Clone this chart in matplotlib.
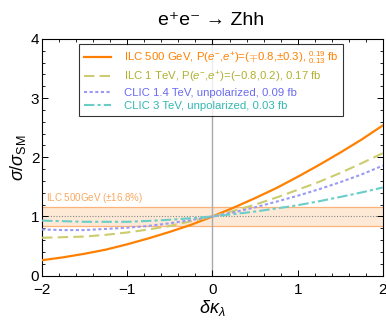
import matplotlib
matplotlib.use('Agg')
import matplotlib.pyplot as plt
from matplotlib.lines import Line2D
from matplotlib.ticker import MultipleLocator

plt.rcParams['font.family'] = ['Liberation Sans', 'DejaVu Sans']
plt.rcParams['mathtext.fontset'] = 'custom'
plt.rcParams['mathtext.rm'] = 'Liberation Sans'
plt.rcParams['mathtext.it'] = 'Liberation Sans:italic'
plt.rcParams['mathtext.bf'] = 'Liberation Sans:bold'

# values
dkappa = [-2, -1.75, -1.5, -1.25, -1, -0.75, -0.5, -0.25, 0,
          0.25, 0.5, 0.75, 1, 1.25, 1.5, 1.75, 2]
ilc500 = [0.26, 0.31, 0.37, 0.44, 0.53, 0.63, 0.74, 0.86, 1.00,
          1.15, 1.31, 1.48, 1.67, 1.87, 2.08, 2.30, 2.54]
ilc1000 = [0.64, 0.65, 0.66, 0.69, 0.73, 0.78, 0.84, 0.92, 1.00,
           1.095, 1.20, 1.32, 1.45, 1.585, 1.735, 1.90, 2.07]
clic1400 = [0.78, 0.77, 0.77, 0.79, 0.81, 0.84, 0.885, 0.94, 1.00,
            1.07, 1.155, 1.25, 1.35, 1.46, 1.58, 1.71, 1.86]
clic3000 = [0.93, 0.92, 0.91, 0.91, 0.91, 0.925, 0.945, 0.97, 1.00,
            1.04, 1.083, 1.135, 1.19, 1.257, 1.33, 1.406, 1.49]
band_pct = 16.8

labels = [
    r'ILC 500 GeV, P($e^{-}$,$e^{+}$)=($\mp$0.8,$\pm$0.3), $^{0.19}_{0.13}$ fb',
    r'ILC 1 TeV, P($e^{-}$,$e^{+}$)=($-$0.8,0.2), 0.17 fb',
    'CLIC 1.4 TeV, unpolarized, 0.09 fb',
    'CLIC 3 TeV, unpolarized, 0.03 fb',
]
line_colors = ['#ff8000', '#cccc70', '#9a9af5', '#6acdc8']
text_colors = ['#ff8000', '#b0b030', '#6a6af0', '#33b8b0']
styles = ['-', (0, (5, 2.5)), (0, (1.5, 1.2)), (0, (5, 1.5, 1.5, 1.5))]
widths = [1.6, 1.5, 1.5, 1.5]

fig = plt.figure(figsize=(3.86, 3.22), dpi=100)
ax = fig.add_axes([0.109, 0.144, 0.883, 0.735])

lo = 1 - band_pct / 100
hi = 1 + band_pct / 100
ax.axhspan(lo, hi, color='#fde9d6', zorder=0, lw=0)
ax.axhline(lo, color='#fbb37a', lw=0.9, zorder=1)
ax.axhline(hi, color='#fbb37a', lw=0.9, zorder=1)
ax.axhline(1, color='#888888', lw=0.8, ls=(0, (1, 1.5)), zorder=1)
ax.axvline(0, color='#aaaaaa', lw=1.0, zorder=1)
ax.text(-1.95, hi + 0.03, 'ILC 500GeV ($\\pm$16.8%)', color='#fba860',
        fontsize=7, ha='left', va='bottom')

series = [ilc500, ilc1000, clic1400, clic3000]
for ys, c, s, w in zip(series, line_colors, styles, widths):
    ax.plot(dkappa, ys, color=c, ls=s, lw=w, zorder=3)

ax.set_xlim(-2, 2)
ax.set_ylim(0, 4)
ax.xaxis.set_minor_locator(MultipleLocator(0.2))
ax.yaxis.set_minor_locator(MultipleLocator(0.2))
ax.tick_params(which='both', direction='in', top=True, right=True,
               labelsize=11)
ax.tick_params(axis='x', pad=5)
ax.tick_params(axis='y', pad=2)
ax.tick_params(which='major', length=4, width=0.7)
ax.tick_params(which='minor', length=2, width=0.6)
ax.set_xticks([-2, -1, 0, 1, 2])
ax.set_xticklabels(['\u22122', '\u22121', '0', '1', '2'])
ax.set_yticks([0, 1, 2, 3, 4])
ax.set_yticklabels(['0', '1', '2', '3', '4'], va='center_baseline')
for sp in ax.spines.values():
    sp.set_linewidth(0.8)

ax.set_xlabel(r'$\delta\kappa_{\lambda}$', fontsize=13, labelpad=1)
ax.set_ylabel(r'$\sigma/\sigma_{\rm SM}$', fontsize=13, labelpad=2)
fig.text(0.548, 0.935, 'e\u207ae\u207b \u2192 Zhh', fontsize=14,
         ha='center', va='center')

handles = [Line2D([], [], color=c, ls=s, lw=w)
           for c, s, w in zip(line_colors, styles, widths)]
leg = ax.legend(handles, labels, loc='upper left',
                bbox_to_anchor=(0.108, 0.979), fontsize=8.2,
                frameon=True, fancybox=False, edgecolor='black',
                handlelength=2.4, handletextpad=1.1, labelspacing=0.3,
                borderpad=0.45, borderaxespad=0, labelcolor=text_colors)
leg.get_frame().set_linewidth(0.8)

fig.savefig('out.png', dpi=100)
